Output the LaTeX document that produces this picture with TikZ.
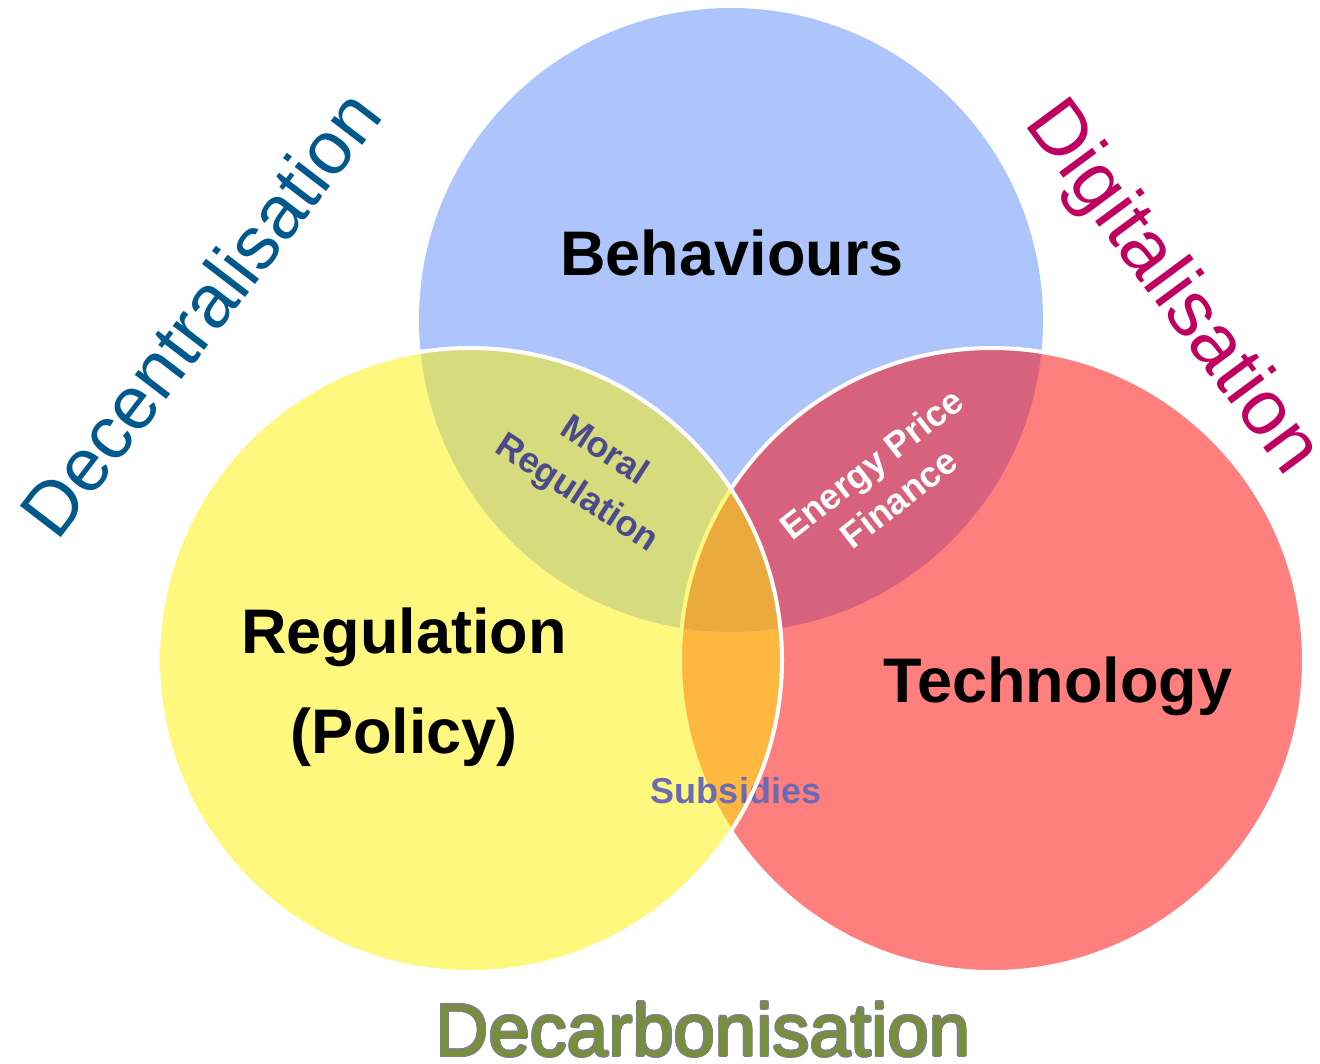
\documentclass[tikz,border=0pt]{standalone}
\usepackage{fontspec}
\setmainfont{Liberation Sans}
\definecolor{behavblue}{RGB}{173,197,251}
\definecolor{moralink}{RGB}{74,74,140}
\definecolor{subsink}{RGB}{107,107,181}
\definecolor{decentink}{RGB}{0,88,140}
\definecolor{digitink}{RGB}{192,0,96}
\definecolor{decarbink}{RGB}{120,142,56}
\definecolor{decarbedge}{RGB}{128,128,128}
\begin{document}
\begin{tikzpicture}[x=1pt,y=-1pt,
  ring/.style={draw=white,line width=4pt},
  bigword/.style={font=\bfseries\fontsize{63}{75}\selectfont,anchor=base,inner sep=0pt},
  smallword/.style={font=\bfseries\fontsize{36}{43}\selectfont,inner sep=0pt},
  themeword/.style={font=\fontsize{74}{88}\selectfont,inner sep=0pt}]
\useasboundingbox (0,0) rectangle (1320,1063);
\fill[white] (0,0) rectangle (1320,1063);

% circle centres
\coordinate (cb) at (731,320);
\coordinate (cr) at (992,660);
\coordinate (cy) at (470,660);

% Behaviours (opaque), Technology and Regulation (half transparent)
\fill[behavblue] (cb) circle[radius=312];
\filldraw[fill=red,fill opacity=0.5,ring] (cr) circle[radius=312];
\fill[yellow,fill opacity=0.5] (cy) circle[radius=312];
\node[smallword,anchor=base,text=subsink] (subs) at (736,803) {Subsidies};
\draw[ring] (cy) circle[radius=312];

% circle titles
\node[bigword] (behav) at (732,275) {Behaviours};
\node[bigword] (regA) at (404,653) {Regulation};
\node[bigword] (regB) at (404,753) {(Policy)};
\node[bigword] (tech) at (1058,702) {Technology};

% overlap labels
\node[smallword,align=center,rotate=-33,text=moralink,
      font=\bfseries\fontsize{36}{50}\selectfont] (moral) at (590,473) {Moral\\Regulation};
\node[smallword,align=center,rotate=38,text=white,
      font=\bfseries\fontsize{36}{44}\selectfont] (energy) at (885,481) {Energy Price\\Finance};

% surrounding themes
\node[themeword,anchor=base west,rotate=52.5,text=decentink,
      font=\fontsize{75}{88}\selectfont] (decent) at (57,543) {Decentralisation};
\node[themeword,anchor=base west,rotate=-53.5,text=digitink,
      font=\fontsize{78}{92}\selectfont] (digit) at (1023,123) {Digitalisation};
\foreach \a in {0,30,...,330}
  \node[themeword,anchor=base,text=decarbedge,xshift={1.3*cos(\a)},yshift={1.3*sin(\a)}]
    (decarbedge\a) at (703,1056) {Decarbonisation};
\node[themeword,anchor=base,text=decarbink] (decarb) at (703,1056) {Decarbonisation};
\end{tikzpicture}
\end{document}
